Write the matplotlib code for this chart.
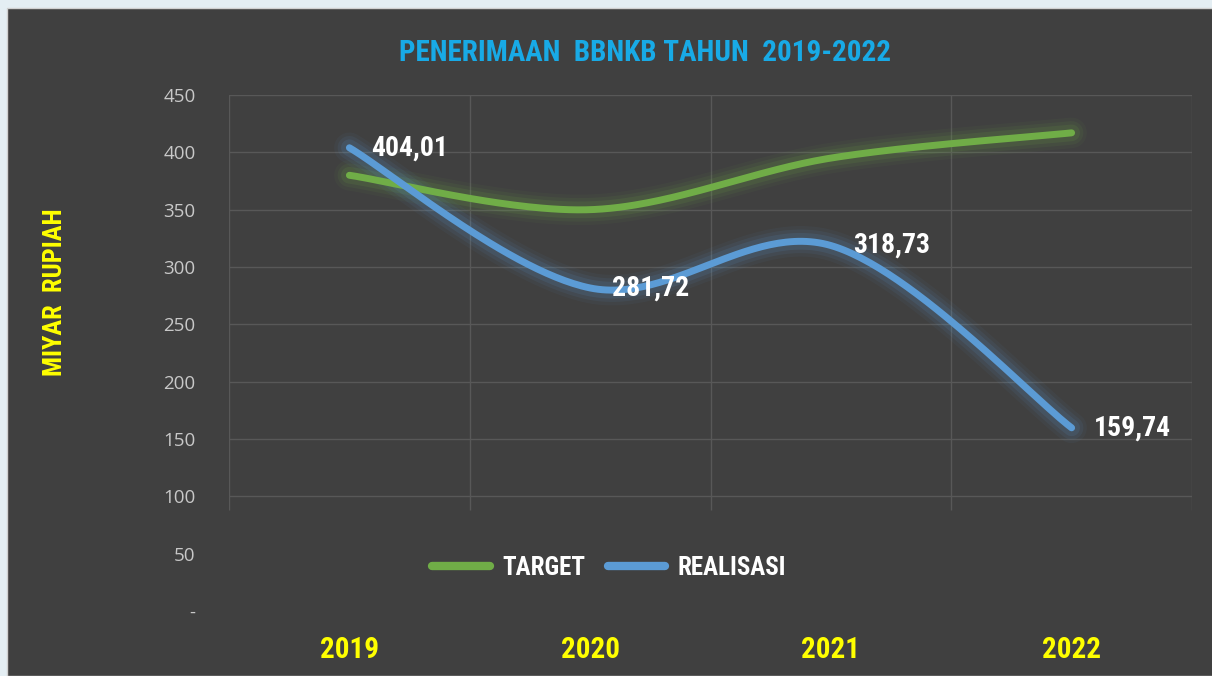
import numpy as np
import matplotlib
matplotlib.use('Agg')
import matplotlib.pyplot as plt
from matplotlib.patches import Rectangle
from matplotlib.lines import Line2D

years = ['2019', '2020', '2021', '2022']
target = [380, 350, 395, 417]
realisasi = [404.01, 281.72, 318.73, 159.74]
label_realisasi = ['404,01', '281,72', '318,73', '159,74']
yticks = [0, 50, 100, 150, 200, 250, 300, 350, 400, 450]
ytick_labels = ['-', '50', '100', '150', '200', '250', '300', '350', '400', '450']

BG = '#404040'
GREEN = '#70ad47'
BLUE = '#5b9bd5'
NARROW = ['Roboto Condensed', 'DejaVu Sans']


def smooth(xs, ys, n=60):
    # catmull-rom, like excel "smoothed line"
    p = np.column_stack([xs, ys]).astype(float)
    p = np.vstack([p[0], p, p[-1]])
    out = []
    for i in range(1, len(p) - 2):
        p0, p1, p2, p3 = p[i - 1], p[i], p[i + 1], p[i + 2]
        c1 = p1 + (p2 - p0) / 6
        c2 = p2 - (p3 - p1) / 6
        t = np.linspace(0, 1, n)[:, None]
        seg = ((1 - t) ** 3 * p1 + 3 * (1 - t) ** 2 * t * c1
               + 3 * (1 - t) * t ** 2 * c2 + t ** 3 * p2)
        out.append(seg)
    s = np.vstack(out)
    return s[:, 0], s[:, 1]


fig = plt.figure(figsize=(12.12, 6.76), dpi=100)
fig.patch.set_facecolor('#e4eef3')
fig.patches.append(Rectangle((7 / 1212, 0), 1, 1 - 8 / 676, transform=fig.transFigure,
                             facecolor=BG, edgecolor='#d0d0d0', lw=1, zorder=-10))

ax = fig.add_axes([229 / 1212, 1 - 611 / 676, 963 / 1212, 516 / 676])
ax.set_facecolor(BG)
x = np.arange(len(years))
ax.set_xlim(-0.5, len(years) - 0.5)
ax.set_ylim(0, 450)

# grid (legend area covers the lower part)
for v in yticks:
    if v >= 100:
        ax.axhline(v, color='#585858', lw=1, zorder=1)
for b in np.arange(len(years) + 1) - 0.5:
    ax.vlines(b, 88, 450, color='#585858', lw=1, zorder=1)

for xs, ys, col in [(x, target, GREEN), (x, realisasi, BLUE)]:
    sx, sy = smooth(xs, ys)
    for w, a in [(22, 0.05), (17, 0.08), (12, 0.12)]:
        ax.plot(sx, sy, color=col, lw=w, alpha=a, solid_capstyle='round', zorder=2)
    ax.plot(sx, sy, color=col, lw=5, solid_capstyle='round', zorder=3)

for xi, yi, lab in zip(x, realisasi, label_realisasi):
    ax.annotate(lab, (xi, yi), xytext=(16, 0), textcoords='offset points',
                ha='left', va='center', color='white', fontsize=20,
                fontweight='bold', family=NARROW, fontstretch='condensed', zorder=5)

ax.set_yticks(yticks)
ax.set_yticklabels(ytick_labels, color='#c8c8c8', fontsize=13.5, family='Open Sans')
ax.set_xticks(x)
ax.set_xticklabels(years, color='#ffff00', fontsize=21, fontweight='bold',
                   family=NARROW, fontstretch='condensed')
ax.tick_params(axis='y', length=0, pad=24)
ax.tick_params(axis='x', length=0, pad=18)
for sp in ax.spines.values():
    sp.set_visible(False)

ax.set_ylabel('MIYAR  RUPIAH', color='#ffff00', fontsize=19, fontweight='bold',
              family=NARROW, fontstretch='condensed', labelpad=0)
ax.yaxis.set_label_coords(-0.168, 0.618)

fig.text(0.532, 1 - 53 / 676, 'PENERIMAAN  BBNKB TAHUN  2019-2022', color='#18aae6',
         fontsize=21, fontweight='bold', family=NARROW, fontstretch='condensed',
         ha='center', va='center')

handles = [Line2D([], [], color=GREEN, lw=6, solid_capstyle='round'),
           Line2D([], [], color=BLUE, lw=6, solid_capstyle='round')]
leg = ax.legend(handles, ['TARGET', 'REALISASI'], loc='center', ncol=2,
                bbox_to_anchor=(380 / 963, 1 - (568 - 95) / 516), frameon=False,
                prop={'family': NARROW, 'weight': 'bold', 'size': 18, 'stretch': 'condensed'},
                handlelength=2.3, handletextpad=0.5, columnspacing=0.9)
for t in leg.get_texts():
    t.set_color('white')

plt.savefig('out.png', dpi=100, facecolor=fig.get_facecolor())
